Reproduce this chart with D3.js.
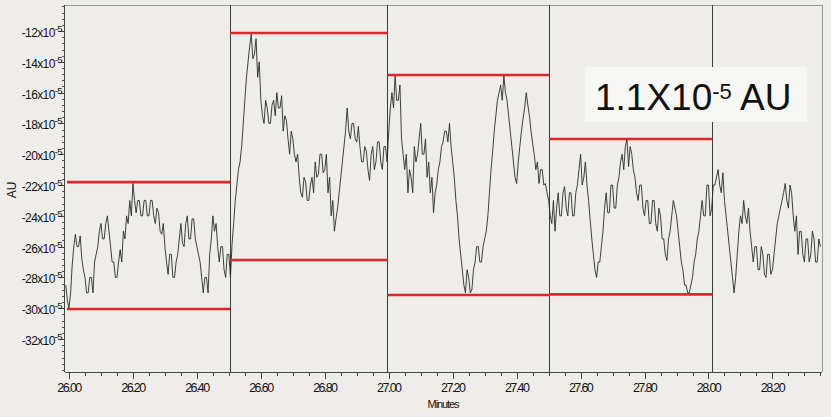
<!DOCTYPE html>
<html><head><meta charset="utf-8">
<script src="https://cdn.jsdelivr.net/npm/d3@7/dist/d3.min.js"></script>
<style>
html,body{margin:0;padding:0;background:#efede9;}
svg{display:block;}
</style></head>
<body>
<svg id="chart" width="831" height="417"></svg>
<script>
// ---- data (AU values in units of 1e-5, time in minutes) ----
const startTime = 25.99;
const sampleStep = 0.005;
const signal = [
-28.5,-29.5,-30.0,-29.0,-27.2,-26.0,-25.2,-26.0,-26.0,-25.3,-26.8,-27.5,-28.0,-29.0,-29.0,-28.0,-28.0,-29.0,-27.0,-26.5,
-26.0,-25.0,-24.5,-25.5,-25.5,-24.5,-24.0,-25.0,-26.0,-27.0,-27.0,-28.0,-28.0,-27.0,-26.2,-27.0,-25.0,-25.5,-24.0,-24.5,
-23.0,-24.0,-21.9,-23.0,-23.8,-23.0,-23.0,-24.0,-24.0,-23.0,-23.0,-24.0,-24.0,-23.0,-23.0,-24.0,-24.5,-23.5,-23.8,-25.0,
-25.2,-24.5,-26.0,-27.0,-27.8,-26.5,-26.5,-28.0,-28.0,-27.0,-26.5,-25.5,-24.5,-25.8,-26.0,-24.5,-24.0,-25.5,-25.5,-24.2,
-24.2,-25.5,-26.0,-26.5,-27.0,-28.0,-29.0,-28.0,-28.0,-29.0,-26.5,-25.5,-24.0,-25.0,-24.5,-26.0,-27.0,-26.0,-26.0,-27.5,
-28.0,-26.5,-26.5,-28.0,-25.8,-24.5,-23.0,-22.0,-21.0,-20.5,-19.5,-18.0,-16.5,-15.0,-14.0,-13.0,-12.2,-13.8,-13.5,-12.5,
-15.0,-14.0,-16.5,-17.5,-18.0,-16.5,-17.0,-18.0,-18.0,-16.8,-16.5,-17.5,-16.0,-17.0,-17.0,-16.2,-18.5,-17.5,-17.8,-19.0,
-20.0,-18.5,-19.0,-20.0,-20.5,-20.0,-21.5,-22.5,-22.8,-21.5,-21.8,-23.0,-23.0,-22.0,-21.5,-22.5,-20.5,-21.5,-21.3,-20.0,
-20.0,-21.2,-21.0,-20.0,-22.5,-21.5,-24.0,-23.0,-25.0,-24.2,-23.5,-22.5,-21.5,-20.5,-19.5,-18.5,-17.0,-18.5,-19.0,-18.0,
-18.0,-19.0,-19.2,-18.2,-19.5,-20.5,-20.5,-19.5,-19.8,-21.0,-21.7,-20.0,-19.5,-21.0,-20.5,-19.2,-19.2,-20.5,-21.0,-19.5,
-19.5,-20.5,-18.5,-17.0,-16.0,-17.0,-14.9,-16.5,-16.5,-15.5,-19.0,-20.0,-21.0,-20.0,-22.5,-21.0,-21.5,-22.5,-19.5,-20.5,
-20.0,-19.0,-18.0,-20.0,-20.0,-19.0,-21.5,-20.5,-22.5,-21.5,-23.8,-22.5,-22.0,-21.0,-20.5,-19.5,-19.2,-18.5,-18.5,-19.2,
-18.0,-19.5,-20.5,-21.5,-23.0,-24.0,-25.5,-26.5,-27.5,-28.5,-29.0,-27.5,-28.0,-29.0,-28.8,-27.5,-27.0,-26.0,-26.0,-27.0,
-27.0,-26.0,-25.5,-25.0,-24.0,-22.5,-21.0,-19.8,-18.5,-17.5,-16.5,-16.0,-15.5,-16.5,-14.9,-16.0,-16.5,-17.5,-18.5,-19.5,
-20.5,-21.5,-21.9,-20.5,-19.5,-18.5,-17.7,-17.0,-16.0,-16.8,-17.5,-18.5,-19.3,-20.0,-21.0,-20.5,-21.9,-21.0,-21.0,-22.0,
-21.9,-22.5,-23.0,-24.0,-24.5,-23.0,-25.0,-23.5,-22.5,-24.0,-24.0,-22.5,-22.1,-23.5,-24.0,-22.5,-22.5,-24.0,-24.0,-22.5,
-22.0,-21.0,-20.0,-22.0,-21.5,-20.5,-22.0,-23.0,-24.3,-25.5,-26.5,-27.5,-28.0,-27.0,-27.0,-26.0,-25.0,-23.5,-22.5,-23.8,
-23.8,-22.0,-22.0,-23.5,-23.5,-22.0,-21.5,-20.5,-20.0,-21.0,-19.5,-19.0,-20.8,-19.5,-20.0,-21.0,-21.5,-22.5,-23.0,-22.0,
-22.0,-23.5,-24.0,-23.0,-23.0,-24.5,-24.5,-23.0,-23.0,-24.5,-25.0,-23.5,-24.0,-25.5,-25.5,-26.5,-26.9,-25.5,-25.0,-24.0,
-23.0,-23.5,-24.0,-25.0,-26.0,-27.0,-27.5,-28.5,-28.5,-29.0,-29.0,-28.5,-28.0,-27.0,-26.5,-25.5,-25.0,-24.0,-23.0,-24.0,
-24.0,-22.0,-22.0,-24.0,-23.5,-22.0,-22.0,-21.5,-21.0,-22.0,-22.5,-21.2,-23.0,-24.0,-25.0,-26.0,-27.0,-28.0,-29.0,-28.0,
-26.5,-25.0,-24.0,-24.5,-23.0,-24.0,-24.5,-23.5,-25.0,-26.0,-27.0,-26.0,-26.0,-27.5,-27.5,-26.0,-26.5,-27.8,-28.0,-26.5,
-26.5,-27.8,-27.5,-26.5,-25.5,-24.5,-24.0,-23.5,-23.0,-22.5,-21.9,-23.0,-23.5,-22.0,-22.5,-24.0,-25.0,-24.0,-26.5,-25.0,
-25.0,-26.5,-27.0,-25.5,-25.5,-27.0,-26.5,-25.0,-25.5,-27.0,-27.0,-25.5,-26.0
];
const dividerTimes = [26.5035, 26.996, 27.501, 28.0125];
const bandStart = [25.9937, 26.5035, 26.996, 27.501];
const bandEnd   = [26.5035, 26.996, 27.501, 28.0125];
const bandTop    = [-21.81, -12.13, -14.86, -19.01];
const bandBottom = [-30.05, -26.87, -29.14, -29.10];
const xTickLabels = ["26.00","26.20","26.40","26.60","26.80","27.00","27.20","27.40","27.60","27.80","28.00","28.20"];
const yTickValues = [-12,-14,-16,-18,-20,-22,-24,-26,-28,-30,-32];
const annotation = {main:"1.1X10", sup:"-5", tail:" AU"};

// ---- layout ----
const svg = d3.select("#chart");
const L = 65, R = 822, T = 5, B = 372;
const x = d3.scaleLinear().domain([25.9875, 28.355]).range([L, R]);
const y = d3.scaleLinear().domain([-10.31, -34.14]).range([T, B]);

svg.append("rect").attr("width",831).attr("height",417).attr("fill","#efede9");

// frame
svg.append("line").attr("x1",L).attr("x2",R).attr("y1",T+0.5).attr("y2",T+0.5).attr("stroke","#9a9a9a");
svg.append("line").attr("x1",R+0.5).attr("x2",R+0.5).attr("y1",T).attr("y2",B).attr("stroke","#9a9a9a");

// clip
svg.append("clipPath").attr("id","clip").append("rect").attr("x",L).attr("y",T).attr("width",R-L).attr("height",B-T);

// dividers
svg.append("g").selectAll("line").data(dividerTimes).join("line")
  .attr("x1",d=>Math.round(x(d))+0.5).attr("x2",d=>Math.round(x(d))+0.5)
  .attr("y1",T).attr("y2",B).attr("stroke","#3c3c3c").attr("stroke-width",1);

// trace
const pts = signal.map((v,i)=>[startTime + i*sampleStep, v]);
svg.append("path").datum(pts)
  .attr("clip-path","url(#clip)")
  .attr("fill","none").attr("stroke","#2a2a2a").attr("stroke-width",0.9)
  .attr("d", d3.line().x(d=>x(d[0])).y(d=>y(d[1])));

// red bands
const bands = d3.range(bandStart.length);
const red = svg.append("g").attr("stroke","#e0262a").attr("stroke-width",2.6);
red.selectAll("line.top").data(bands).join("line").attr("class","top")
  .attr("x1",i=>x(bandStart[i])).attr("x2",i=>x(bandEnd[i]))
  .attr("y1",i=>y(bandTop[i])).attr("y2",i=>y(bandTop[i]));
red.selectAll("line.bot").data(bands).join("line").attr("class","bot")
  .attr("x1",i=>x(bandStart[i])).attr("x2",i=>x(bandEnd[i]))
  .attr("y1",i=>y(bandBottom[i])).attr("y2",i=>y(bandBottom[i]));

// x axis
const xMajor = xTickLabels.map(s=>+s);
const xMinor = d3.range(520, 568).map(k=>k*0.05);
const xg = svg.append("g").attr("transform",`translate(0,${B})`);
xg.append("line").attr("x1",L).attr("x2",R).attr("y1",0.5).attr("y2",0.5).attr("stroke","#444");
xg.selectAll("line.mi").data(xMinor).join("line").attr("class","mi")
  .attr("x1",d=>Math.round(x(d))+0.5).attr("x2",d=>Math.round(x(d))+0.5).attr("y1",0).attr("y2",4).attr("stroke","#444");
xg.selectAll("line.ma").data(xMajor).join("line").attr("class","ma")
  .attr("x1",d=>Math.round(x(d))+0.5).attr("x2",d=>Math.round(x(d))+0.5).attr("y1",0).attr("y2",7).attr("stroke","#444");
xg.selectAll("text").data(xTickLabels).join("text")
  .attr("x",d=>x(+d)).attr("y",19.5).attr("text-anchor","middle")
  .attr("font-family","Liberation Sans, Arial, sans-serif").attr("font-size",12.5)
  .attr("letter-spacing","-1.6px").attr("fill","#111").text(d=>d);
svg.append("text").attr("x",443).attr("y",408).attr("text-anchor","middle")
  .attr("font-family","Liberation Sans, Arial, sans-serif").attr("font-size",11)
  .attr("letter-spacing","-1.1px").attr("fill","#111").text("Minutes");

// y axis
const yMinor = d3.range(-85, -25).map(k=>k*0.4);
const yg = svg.append("g").attr("transform",`translate(${L},0)`);
yg.append("line").attr("x1",-0.5).attr("x2",-0.5).attr("y1",T).attr("y2",B).attr("stroke","#444");
yg.selectAll("line.mi").data(yMinor).join("line").attr("class","mi")
  .attr("y1",d=>Math.round(y(d))+0.5).attr("y2",d=>Math.round(y(d))+0.5).attr("x1",-1).attr("x2",-3).attr("stroke","#555");
yg.selectAll("line.ma").data(yTickValues).join("line").attr("class","ma")
  .attr("y1",d=>Math.round(y(d))+0.5).attr("y2",d=>Math.round(y(d))+0.5).attr("x1",-1).attr("x2",-5).attr("stroke","#444");
const yl = yg.selectAll("text").data(yTickValues).join("text")
  .attr("x",-3).attr("y",d=>y(d)+6).attr("text-anchor","end")
  .attr("font-family","Liberation Sans, Arial, sans-serif").attr("font-size",12)
  .attr("letter-spacing","-0.6px").attr("fill","#111");
yl.append("tspan").text(d=>d+"x10");
yl.append("tspan").attr("dy",-5).attr("font-size",9.5).text("-5");
svg.append("text").attr("transform","translate(16,190) rotate(-90)").attr("text-anchor","middle")
  .attr("font-family","Liberation Sans, Arial, sans-serif").attr("font-size",12).attr("fill","#111").text("AU");

// annotation box
svg.append("rect").attr("x",585).attr("y",67).attr("width",222).attr("height",55).attr("fill","#f6f6f4");
const at = svg.append("text").attr("x",595).attr("y",110)
  .attr("font-family","Liberation Sans, Arial, sans-serif").attr("font-size",37).attr("fill","#111");
at.append("tspan").text(annotation.main);
at.append("tspan").attr("dy",-11).attr("font-size",22).text(annotation.sup);
at.append("tspan").attr("dy",11).text(annotation.tail);
</script>
</body></html>
